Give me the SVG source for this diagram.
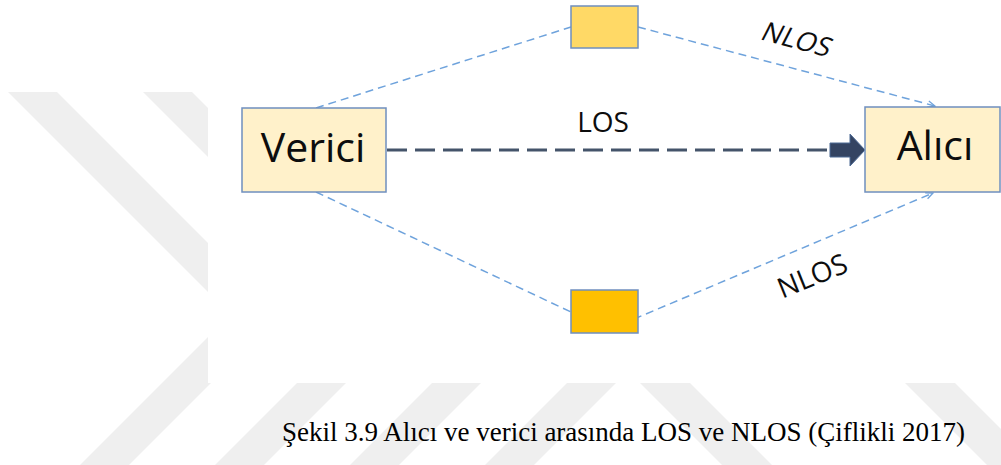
<svg xmlns="http://www.w3.org/2000/svg" width="1001" height="465" viewBox="0 0 1001 465">
  <defs>
    <style>
      .wm{fill:#efefef}
      .box{stroke:#6f8fbf;stroke-width:1.5}
      .end{fill:#fff1ca}
      .lbl{font-family:"Open Sans","Liberation Sans",sans-serif;fill:#0d0d0d}
      .ray{fill:none;stroke:#6fa3dc;stroke-width:1.5;stroke-dasharray:8 5}
      .los{fill:none;stroke:#44546a;stroke-width:3;stroke-dasharray:20 8}
      .cap{font-family:"Liberation Serif","Times New Roman",serif;font-size:27px;fill:#000}
    </style>
    <marker id="tip" viewBox="0 0 10 10" refX="9" refY="5" markerWidth="9" markerHeight="9" orient="auto" markerUnits="userSpaceOnUse">
      <path d="M1,1.5 L9,5 L1,8.5" fill="none" stroke="#6fa3dc" stroke-width="1.4"/>
    </marker>
  </defs>

  <rect width="1001" height="465" fill="#ffffff"/>

  <!-- page background stripes -->
  <g id="watermark">
    <polygon class="wm" points="8,92 57,92 279.5,314.5 57,537 8,537 230.5,314.5"/>
    <polygon class="wm" points="143,92 192,92 414.5,314.5 192,537 143,537 365.5,314.5"/>
    <polygon class="wm" points="278,92 327,92 549.5,314.5 327,537 278,537 500.5,314.5"/>
    <polygon class="wm" points="413,92 462,92 684.5,314.5 462,537 413,537 635.5,314.5"/>
    <polygon class="wm" points="557,300 607,300 777,470 727,470"/>
    <polygon class="wm" points="822,300 872,300 1042,470 992,470"/>
  </g>

  <!-- white drawing panel -->
  <rect x="208" y="0" width="793" height="383" fill="#ffffff"/>

  <g id="connectors">
    <line class="ray" x1="316" y1="108" x2="571" y2="27"/>
    <line class="ray" x1="638" y1="27" x2="935" y2="106" marker-end="url(#tip)"/>
    <line class="ray" x1="316" y1="192" x2="571" y2="312"/>
    <line class="ray" x1="634" y1="319" x2="933" y2="193" marker-end="url(#tip)"/>
    <line class="los" x1="387" y1="150" x2="830" y2="150"/>
    <polygon points="830,143 850,143 850,134 865,150 850,166 850,157 830,157" fill="#344462" stroke="#4d6a95" stroke-width="1"/>
  </g>

  <g id="node-verici">
    <rect class="box end" x="242" y="108" width="144" height="84"/>
    <text class="lbl" x="313" y="162" font-size="41" text-anchor="middle">Verici</text>
  </g>

  <g id="node-alici">
    <rect class="box end" x="865" y="107" width="135" height="85"/>
    <text class="lbl" x="935" y="160" font-size="41" text-anchor="middle">Alıcı</text>
  </g>

  <g id="node-reflector-top">
    <rect class="box" x="571" y="6" width="67" height="42" fill="#ffd966"/>
  </g>

  <g id="node-reflector-bottom">
    <rect class="box" x="571" y="290" width="67" height="43" fill="#ffc000"/>
  </g>

  <g id="labels">
    <text class="lbl" x="603" y="132" font-size="28" text-anchor="middle">LOS</text>
    <text class="lbl" font-size="27" text-anchor="middle" transform="translate(793,48) rotate(15) skewX(-12)">NLOS</text>
    <text class="lbl" font-size="28" text-anchor="middle" transform="translate(816,285) rotate(-22)">NLOS</text>
  </g>

  <text class="cap" x="282" y="441" textLength="683" lengthAdjust="spacingAndGlyphs">Şekil 3.9 Alıcı ve verici arasında LOS ve NLOS (Çiflikli 2017)</text>
</svg>
